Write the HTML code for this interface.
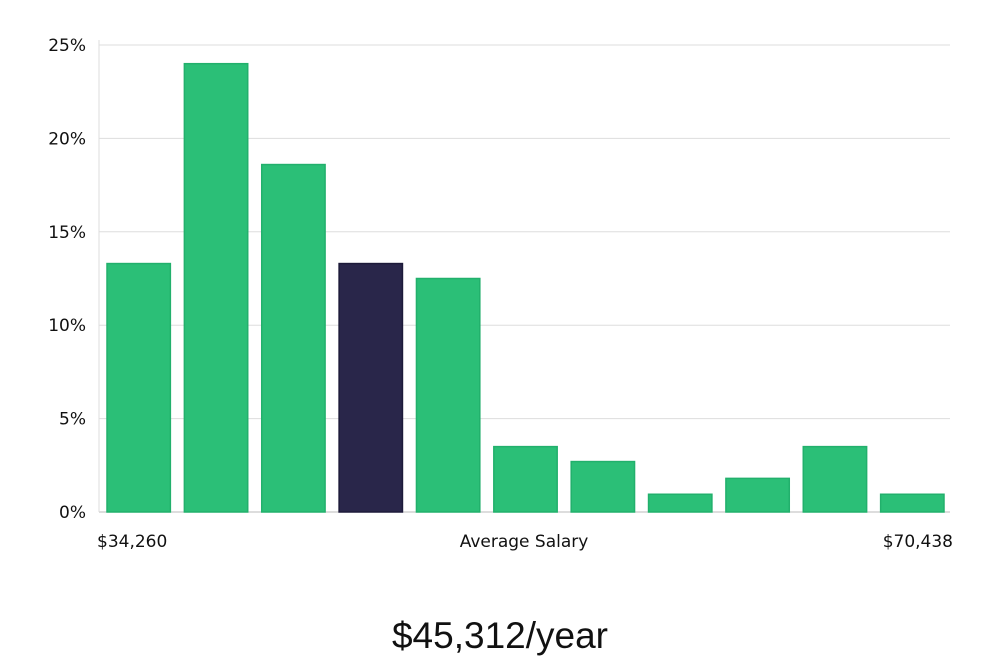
<!DOCTYPE html>
<html><head><meta charset="utf-8"><style>
body{margin:0;background:#fff;width:1000px;height:660px;overflow:hidden}
text{font-family:"DejaVu Sans","Liberation Sans",sans-serif}
</style></head><body>
<svg width="1000" height="660">
<g id="grid"></g><g id="bars"></g><g id="labels"></g>
<text x="500" y="648" text-anchor="middle" font-size="37" fill="#111" style="font-family:'Liberation Sans',sans-serif;font-weight:300">$45,312/year</text>
</svg>
<script>
const values=[13.3,24.0,18.6,13.3,12.5,3.5,2.7,0.95,1.8,3.5,0.95];
const highlight=[false,false,false,true,false,false,false,false,false,false,false];
const yTicks=[0,5,10,15,20,25];
const xLabels=["$34,260","Average Salary","$70,438"];
const ns="http://www.w3.org/2000/svg";
const x0=99,x1=950,yZero=512,yTop=45,yMax=25;
const y=v=>yZero-(yZero-yTop)*v/yMax;
const slot=(x1-x0)/values.length;
function mk(t,a,p){const e=document.createElementNS(ns,t);for(const k in a)e.setAttribute(k,a[k]);p.appendChild(e);return e;}
const grid=document.getElementById('grid'),bars=document.getElementById('bars'),lab=document.getElementById('labels');
yTicks.forEach(t=>{
 const l=mk('line',{x1:x0,x2:x1,y1:y(t),y2:y(t),stroke:t===0?'#bbb':'#ddd','stroke-width':1},grid);
 
 
 const tx=mk('text',{x:86,y:y(t)+6,'text-anchor':'end','font-size':17,fill:'#111'},lab);
 tx.textContent=t+'%';
 
 
});
const ax=mk('line',{x1:x0,x2:x0,y1:40,y2:yZero,stroke:'#ddd'},grid);


values.forEach((v,i)=>{
 const r=mk('rect',{x:x0+i*slot+8,y:y(v),width:slot-14,height:yZero-y(v),fill:highlight[i]?'#29264a':'#2bbf77',stroke:highlight[i]?'#1d1a3a':'#22b06c','stroke-width':1.5},bars);
 
 
});
[[97,'start'],[524,'middle'],[953,'end']].forEach((p,i)=>{
 const t=mk('text',{x:p[0],y:547,'text-anchor':p[1],'font-size':17,fill:'#111'},lab);
 t.textContent=xLabels[i];
 
 
});
</script>
</body></html>
